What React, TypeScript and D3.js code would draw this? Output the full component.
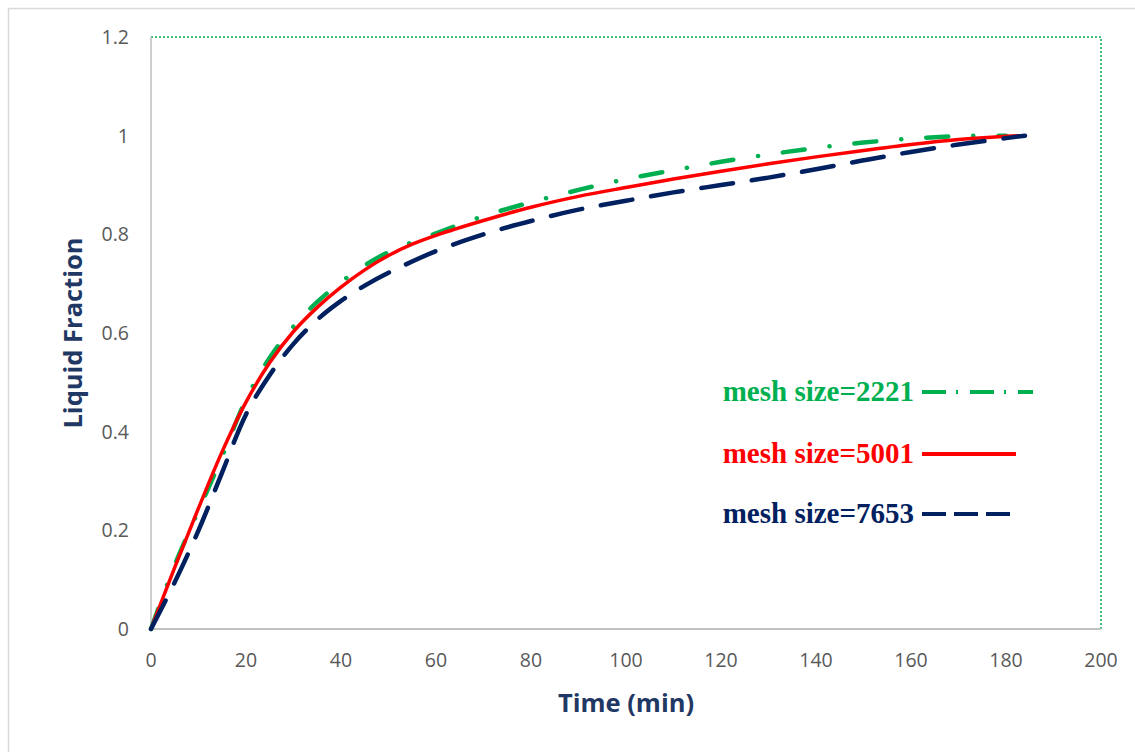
import React, {useEffect, useRef} from 'react';
import {select, scaleLinear, line, curveCatmullRom} from 'd3';

// time (min) and liquid fraction for each mesh
const time2221 = [0, 5, 10, 15, 20, 25, 30, 35, 40, 45, 50, 60, 70, 80, 90, 100, 110, 120, 130, 140, 150, 160, 170, 180];
const frac2221 = [0, 0.13, 0.24, 0.35, 0.465, 0.55, 0.613, 0.663, 0.703, 0.737, 0.764, 0.802, 0.837, 0.865, 0.89, 0.912, 0.93, 0.947, 0.962, 0.975, 0.986, 0.994, 0.999, 1.0];

const time5001 = [0, 5, 10, 15, 20, 25, 30, 35, 40, 45, 50, 55, 60, 70, 80, 90, 100, 110, 120, 130, 140, 150, 160, 170, 180, 183];
const frac5001 = [0, 0.125, 0.245, 0.36, 0.46, 0.54, 0.603, 0.652, 0.693, 0.728, 0.757, 0.78, 0.798, 0.828, 0.855, 0.877, 0.895, 0.912, 0.928, 0.943, 0.957, 0.970, 0.982, 0.992, 0.999, 1.0];

const time7653 = [0, 5, 10, 15, 20, 25, 30, 35, 40, 45, 50, 60, 70, 80, 90, 100, 110, 120, 130, 140, 150, 160, 170, 180, 184];
const frac7653 = [0, 0.095, 0.2, 0.318, 0.435, 0.515, 0.578, 0.627, 0.665, 0.696, 0.722, 0.766, 0.80, 0.827, 0.85, 0.868, 0.885, 0.90, 0.915, 0.932, 0.95, 0.967, 0.982, 0.995, 1.0];

const xTicks = [0, 20, 40, 60, 80, 100, 120, 140, 160, 180, 200];
const yTicks = [0, 0.2, 0.4, 0.6, 0.8, 1, 1.2];

const seriesNames = ['mesh size=2221', 'mesh size=5001', 'mesh size=7653'];

export default function App() {
    const ref = useRef<SVGSVGElement>(null);

    useEffect(() => {
        const svg = select(ref.current);
        svg.selectAll('*').remove();

        const left = 151, right = 1101, top = 37, bottom = 629;
        const x = scaleLinear().domain([0, 200]).range([left, right]);
        const y = scaleLinear().domain([0, 1.2]).range([bottom, top]);

        // outer chart frame
        svg.append('rect')
            .attr('x', 8.5).attr('y', 8.5)
            .attr('width', 1140).attr('height', 760)
            .attr('fill', 'white')
            .attr('stroke', '#d9d9d9').attr('stroke-width', 1.5);

        // plot frame: dotted green top/right, grey axes
        svg.append('path')
            .attr('d', `M${left},${top}H${right}V${bottom}`)
            .attr('fill', 'none')
            .attr('stroke', '#00b050').attr('stroke-width', 1.5)
            .attr('stroke-dasharray', '2,2');
        svg.append('line')
            .attr('x1', left).attr('x2', right).attr('y1', bottom).attr('y2', bottom)
            .attr('stroke', '#bfc4c0').attr('stroke-width', 2);
        svg.append('line')
            .attr('x1', left).attr('x2', left).attr('y1', top).attr('y2', bottom)
            .attr('stroke', '#bfbfbf').attr('stroke-width', 1.5);

        // tick labels
        const tickFont = '"Open Sans", sans-serif';
        svg.append('g').selectAll('text').data(xTicks).join('text')
            .attr('x', d => x(d)).attr('y', bottom + 38)
            .attr('text-anchor', 'middle')
            .attr('font-family', tickFont).attr('font-size', 19.5)
            .attr('fill', '#595959')
            .text(d => d);
        svg.append('g').selectAll('text').data(yTicks).join('text')
            .attr('x', left - 22).attr('y', d => y(d) + 7)
            .attr('text-anchor', 'end')
            .attr('font-family', tickFont).attr('font-size', 19.5)
            .attr('fill', '#595959')
            .text(d => d);

        // axis titles
        svg.append('text')
            .attr('x', 626).attr('y', 712)
            .attr('text-anchor', 'middle')
            .attr('font-family', tickFont).attr('font-weight', 'bold').attr('font-size', 25.5)
            .attr('fill', '#1f3864')
            .text('Time (min)');
        svg.append('text')
            .attr('transform', `translate(82,333) rotate(-90)`)
            .attr('text-anchor', 'middle')
            .attr('font-family', tickFont).attr('font-weight', 'bold').attr('font-size', 25.5)
            .attr('fill', '#1f3864')
            .text('Liquid Fraction');

        const mk = line<number[]>().x(d => x(d[0])).y(d => y(d[1])).curve(curveCatmullRom.alpha(0.5));
        const zip = (a: number[], b: number[]) => a.map((t, i) => [t, b[i]]);

        const series = [
            {data: zip(time2221, frac2221), color: '#00b050', width: 4.5, dash: '22,25,0.1,25'},
            {data: zip(time5001, frac5001), color: '#ff0000', width: 3.5, dash: null},
            {data: zip(time7653, frac7653), color: '#002060', width: 4.5, dash: '32,19'},
        ];

        series.forEach(s => {
            svg.append('path')
                .datum(s.data)
                .attr('fill', 'none')
                .attr('stroke', s.color)
                .attr('stroke-width', s.width)
                .attr('stroke-linecap', 'round')
                .attr('stroke-dasharray', s.dash)
                .attr('d', mk);
        });

        // legend
        const legY = [392, 454, 514];
        const legend = svg.append('g');
        series.forEach((s, i) => {
            legend.append('text')
                .attr('x', 914).attr('y', legY[i] + 9)
                .attr('text-anchor', 'end')
                .attr('font-family', '"Liberation Serif", serif')
                .attr('font-weight', 'bold').attr('font-size', 29)
                .attr('fill', s.color)
                .text(seriesNames[i]);
        });
        legend.append('path')
            .attr('d', `M922,${legY[0]}H1033`)
            .attr('stroke', series[0].color).attr('stroke-width', 4)
            .attr('stroke-dasharray', '24,10,2,12');
        legend.append('path')
            .attr('d', `M922,${legY[1]}H1016`)
            .attr('stroke', series[1].color).attr('stroke-width', 4);
        legend.append('path')
            .attr('d', `M922,${legY[2]}H1016`)
            .attr('stroke', series[2].color).attr('stroke-width', 4)
            .attr('stroke-dasharray', '24,8');
    }, []);

    return (
        <svg ref={ref} width={1135} height={752}
             style={{position: 'absolute', left: 0, top: 0}}></svg>
    );
}
